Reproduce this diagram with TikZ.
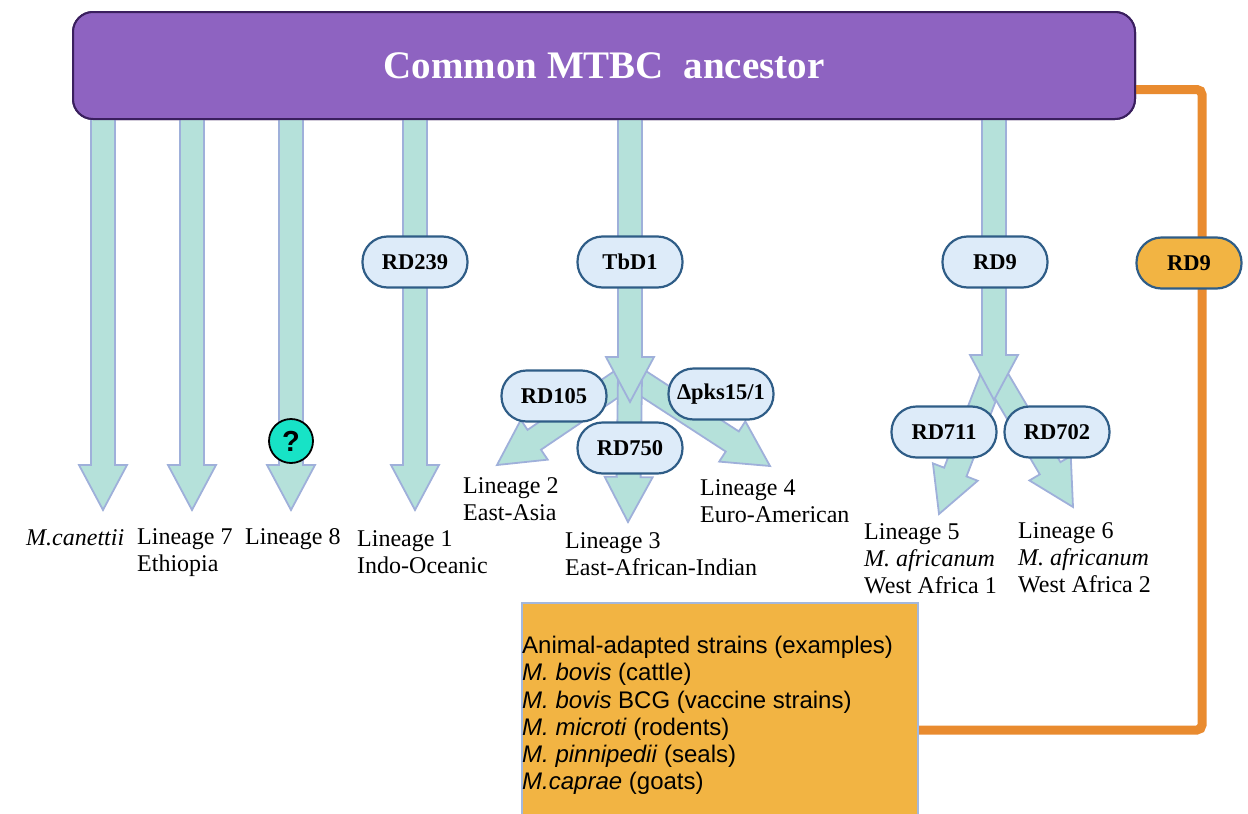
\documentclass[tikz,border=0pt]{standalone}
\usepackage{fontspec}
\setmainfont{Liberation Serif}
\setsansfont{Liberation Sans}
\usetikzlibrary{calc}

\definecolor{arrowfill}{HTML}{B5E1DA}
\definecolor{arrowedge}{HTML}{9FB0DA}
\definecolor{pillfill}{HTML}{DDEBF9}
\definecolor{pilledge}{HTML}{2F5D87}
\definecolor{bannerfill}{HTML}{8E63C1}
\definecolor{banneredge}{HTML}{3A1F5E}
\definecolor{rdorange}{HTML}{E98B2F}
\definecolor{orangefill}{HTML}{F2B443}
\definecolor{boxedge}{HTML}{A3B8DE}
\definecolor{qfill}{HTML}{17E3C6}

% block arrow from #1 to #2 (tip at #2)
\newcommand{\blockarrow}[2]{%
  \draw[arrowbody] let \p1=(#1), \p2=(#2),
    \n1={atan2(\y2-\y1,\x2-\x1)}, \n2={veclen(\x2-\x1,\y2-\y1)-45} in
    ($(\p1)+(\n1+90:12pt)$) -- ($(\p1)+(\n1:\n2)+(\n1+90:12pt)$)
    -- ($(\p1)+(\n1:\n2)+(\n1+90:24pt)$) -- (\p2)
    -- ($(\p1)+(\n1:\n2)+(\n1-90:24pt)$) -- ($(\p1)+(\n1:\n2)+(\n1-90:12pt)$)
    -- ($(\p1)+(\n1-90:12pt)$) -- cycle;}

\begin{document}
\begin{tikzpicture}[x=1pt,y=1pt,
  arrowbody/.style={fill=arrowfill, draw=arrowedge, line width=1.8pt, line join=miter},
  banner/.style={draw=banneredge, fill=bannerfill, line width=2pt, rounded corners=20pt,
    minimum width=1062pt, minimum height=107pt, text=white,
    font=\bfseries\fontsize{39}{46}\selectfont},
  pill/.style={draw=pilledge, fill=pillfill, line width=2.2pt, rounded corners=25pt,
    minimum width=105pt, minimum height=51pt, inner sep=0pt,
    font=\bfseries\fontsize{22.5}{26}\selectfont},
  lineage/.style={anchor=north west, inner sep=0pt, align=left,
    font=\fontsize{24}{27}\selectfont},
  animalbox/.style={draw=boxedge, fill=orangefill, line width=1.5pt, minimum width=396pt,
    minimum height=216pt, anchor=north west, inner sep=0pt},
  rdline/.style={draw=rdorange, line width=9pt, rounded corners=5pt},
]
\useasboundingbox (0,0) rectangle (1248,-814);

% ancestor banner
\node[banner] (ancestor) at (604,-65.5) {Common MTBC\ \ ancestor};

% animal strains box and its orange connector
\node[animalbox] (animals) at (521,-602) {};
\coordinate (bend) at (1202,-730);
\draw[rdline] ([yshift=-24pt]ancestor.east) -| (bend) -- (bend -| animals.east);
\node[animalbox] at (521,-602) {};
\node[anchor=north west, inner sep=0pt, align=left,
  font=\sffamily\fontsize{24}{27.2}\selectfont] (animaltext) at (522,-636)
  {Animal-adapted strains (examples)\\
   \textit{M. bovis} (cattle)\\
   \textit{M. bovis} BCG (vaccine strains)\\
   \textit{M. microti} (rodents)\\
   \textit{M. pinnipedii} (seals)\\
   \textit{M.caprae} (goats)};

% arrow ends
\coordinate (sCan) at (103,-110);  \coordinate (tCan) at (103,-510);
\coordinate (sL7) at (192,-110);   \coordinate (tL7) at (192,-510);
\coordinate (sL8) at (291,-110);   \coordinate (tL8) at (291,-510);
\coordinate (sL1) at (415,-110);   \coordinate (tL1) at (415,-510);
\coordinate (sTb) at (630,-110);   \coordinate (tTb) at (630,-402);
\coordinate (sR9) at (994,-110);   \coordinate (tR9) at (994,-400);
\coordinate (splitTb) at (630,-375);
\coordinate (tL2) at (497,-465);
\coordinate (tL3) at (628,-522);
\coordinate (tL4) at (770,-466);
\coordinate (splitLeft) at (993,-375);
\coordinate (splitRight) at (995,-375);
\coordinate (tL5) at (939,-514);
\coordinate (tL6) at (1073,-507);

% branches first, main arrows on top
\blockarrow{splitTb}{tL2}
\blockarrow{splitTb}{tL4}
\blockarrow{splitTb}{tL3}
\blockarrow{splitLeft}{tL5}
\blockarrow{splitRight}{tL6}
\blockarrow{sCan}{tCan}
\blockarrow{sL7}{tL7}
\blockarrow{sL8}{tL8}
\blockarrow{sL1}{tL1}
\blockarrow{sTb}{tTb}
\blockarrow{sR9}{tR9}

% banner again over the arrow ends
\node[banner] at (604,-65.5) {Common MTBC\ \ ancestor};

% deletions
\node[pill] (rd239) at (415,-262) {RD239};
\node[pill] (tbd1) at (630,-262) {TbD1};
\node[pill] (rd9) at (995,-262) {RD9};
\node[pill, fill=orangefill] (rd9b) at (1189,-263) {RD9};
\node[pill] (rd105) at (554,-396) {RD105};
\node[pill] (pks) at (721,-394) {Δpks15/1};
\node[pill] (rd750) at (630,-448) {RD750};
\node[pill] (rd711) at (944,-432) {RD711};
\node[pill] (rd702) at (1057,-432) {RD702};

\node[circle, draw=black, line width=1.8pt, fill=qfill, minimum size=44pt, inner sep=0pt,
  font=\sffamily\bfseries\fontsize{29}{29}\selectfont] (unknown) at (291,-441) {?};

% lineages
\node[lineage] (canettii) at (26,-529) {\textit{M.canettii}};
\node[lineage] (lin7) at (137,-528) {Lineage 7\\Ethiopia};
\node[lineage] (lin8) at (245,-528) {Lineage 8};
\node[lineage] (lin1) at (357,-530) {Lineage 1\\Indo-Oceanic};
\node[lineage] (lin2) at (463,-477) {Lineage 2\\East-Asia};
\node[lineage] (lin3) at (565,-532) {Lineage 3\\East-African-Indian};
\node[lineage] (lin4) at (700,-479) {Lineage 4\\Euro-American};
\node[lineage] (lin5) at (864,-523) {Lineage 5\\\textit{M. africanum}\\West Africa 1};
\node[lineage] (lin6) at (1018,-522) {Lineage 6\\\textit{M. africanum}\\West Africa 2};
\end{tikzpicture}
\end{document}
